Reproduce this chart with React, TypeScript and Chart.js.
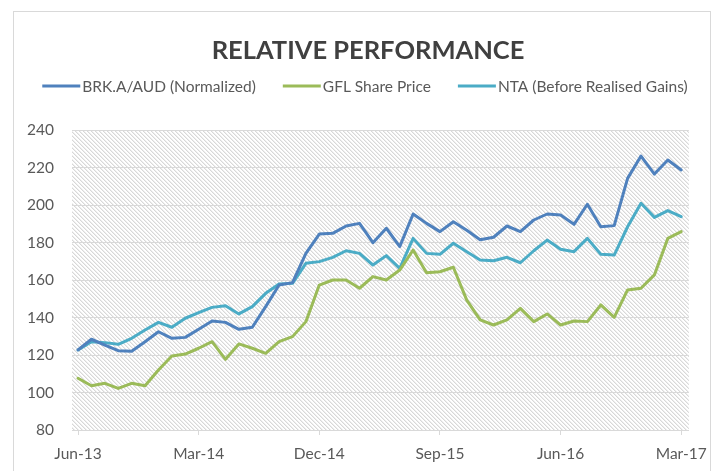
import React, { useEffect, useRef } from "react";
import { Chart, registerables } from "chart.js";

Chart.register(...registerables);

const months = [
  "Jun-13", "Jul-13", "Aug-13", "Sep-13", "Oct-13", "Nov-13", "Dec-13",
  "Jan-14", "Feb-14", "Mar-14", "Apr-14", "May-14", "Jun-14", "Jul-14", "Aug-14", "Sep-14", "Oct-14", "Nov-14", "Dec-14",
  "Jan-15", "Feb-15", "Mar-15", "Apr-15", "May-15", "Jun-15", "Jul-15", "Aug-15", "Sep-15", "Oct-15", "Nov-15", "Dec-15",
  "Jan-16", "Feb-16", "Mar-16", "Apr-16", "May-16", "Jun-16", "Jul-16", "Aug-16", "Sep-16", "Oct-16", "Nov-16", "Dec-16",
  "Jan-17", "Feb-17", "Mar-17",
];

const tickLabels = ["Jun-13", "Mar-14", "Dec-14", "Sep-15", "Jun-16", "Mar-17"];

const brkAud = [
  122.7, 128.4, 125.3, 122.3, 122.0, 127.1, 132.4, 128.9, 129.4, 133.7,
  138.1, 137.4, 133.7, 134.8, 145.8, 157.3, 158.6, 174.2, 184.5, 184.9,
  188.8, 190.2, 179.9, 187.6, 177.8, 195.2, 190.2, 185.8, 191.1, 186.5,
  181.5, 182.8, 188.8, 185.8, 192.0, 195.2, 194.7, 189.7, 200.4, 188.4,
  189.0, 214.2, 226.1, 216.5, 224.0, 218.7,
];

const gflPrice = [
  107.6, 103.6, 104.9, 102.2, 104.9, 103.6, 112.0, 119.5, 120.5, 123.6,
  127.1, 117.7, 125.9, 123.6, 120.9, 127.1, 129.8, 137.8, 157.3, 160.0,
  160.0, 155.6, 161.8, 160.0, 165.3, 176.0, 163.9, 164.4, 166.8, 149.3,
  138.7, 136.0, 138.7, 144.9, 137.8, 141.9, 136.0, 138.1, 137.8, 146.7,
  140.1, 154.7, 155.6, 162.7, 182.2, 185.8,
];

const ntaBefore = [
  122.7, 127.1, 126.6, 125.7, 128.9, 133.3, 137.4, 134.8, 139.6, 142.6,
  145.4, 146.3, 141.9, 145.8, 152.9, 157.9, 158.2, 168.9, 169.8, 172.1,
  175.6, 174.2, 168.0, 173.0, 166.2, 182.2, 174.2, 173.7, 179.6, 175.1,
  170.7, 170.3, 172.1, 169.2, 175.6, 181.3, 176.4, 175.1, 182.2, 173.7,
  173.3, 188.4, 200.9, 193.4, 197.0, 193.8,
];

const seriesNames = ["BRK.A/AUD (Normalized)", "GFL Share Price", "NTA (Before Realised Gains)"];
const seriesColors = ["#4F81BD", "#9BBB59", "#4BACC6"];
const seriesValues = [brkAud, gflPrice, ntaBefore];

const TITLE = "RELATIVE PERFORMANCE";
const FONT = "Lato";
const TEXT_COLOR = "#595959";
const GRID_COLOR = "#D9D9D9";

function makeHatch(): CanvasPattern | string {
  const c = document.createElement("canvas");
  c.width = 4;
  c.height = 4;
  const g = c.getContext("2d");
  if (!g) return "#eee";
  g.fillStyle = "#ffffff";
  g.fillRect(0, 0, 4, 4);
  for (let i = 0; i < 4; i++) {
    g.fillStyle = "#d8d8d8";
    g.fillRect(i, i, 1, 1);
    g.fillStyle = "#eeeeee";
    g.fillRect((i + 1) % 4, i, 1, 1);
  }
  const p = g.createPattern(c, "repeat");
  return p || "#eee";
}

const framePlugin = {
  id: "frame",
  beforeDraw(chart: any) {
    const { ctx, chartArea, width, height } = chart;
    ctx.save();
    ctx.fillStyle = "#ffffff";
    ctx.fillRect(0, 0, width, height);
    ctx.strokeStyle = GRID_COLOR;
    ctx.lineWidth = 1;
    ctx.strokeRect(13.5, 11.5, 697, height + 20);
    ctx.fillStyle = makeHatch();
    ctx.fillRect(chartArea.left, chartArea.top, chartArea.right - chartArea.left, chartArea.bottom - chartArea.top);
    ctx.restore();
  },
  afterDraw(chart: any) {
    const { ctx } = chart;
    ctx.save();
    ctx.font = `bold 25.5px ${FONT}`;
    ctx.fillStyle = "#404040";
    ctx.textAlign = "center";
    ctx.textBaseline = "alphabetic";
    ctx.fillText(TITLE, 368, 59.3);
    ctx.font = `15.5px ${FONT}`;
    const lineLen = 38;
    const gap = 2;
    const itemGap = 27;
    const datasets = chart.data.datasets;
    const widths = datasets.map((d: any) => ctx.measureText(d.label).width);
    const total = widths.reduce((a: number, w: number) => a + lineLen + gap + w, 0) + itemGap * (datasets.length - 1);
    let x = 365 - total / 2;
    const y = 86;
    ctx.textAlign = "left";
    datasets.forEach((d: any, i: number) => {
      ctx.strokeStyle = d.borderColor;
      ctx.lineWidth = 3;
      ctx.beginPath();
      ctx.moveTo(x, y);
      ctx.lineTo(x + lineLen, y);
      ctx.stroke();
      ctx.fillStyle = TEXT_COLOR;
      ctx.fillText(d.label, x + lineLen + gap, y + 5.6);
      x += lineLen + gap + widths[i] + itemGap;
    });
    ctx.restore();
  },
};

export default function App() {
  const ref = useRef<HTMLCanvasElement>(null);
  useEffect(() => {
    const canvas = ref.current;
    if (!canvas) return;
    const tickIdx = tickLabels.map((t) => months.indexOf(t));
    const chart = new Chart(canvas, {
      type: "line",
      data: {
        datasets: seriesNames.map((name, s) => ({
          label: name,
          data: seriesValues[s].map((v, i) => ({ x: i, y: v })),
          borderColor: seriesColors[s],
          backgroundColor: seriesColors[s],
          borderWidth: 3,
          pointRadius: 0,
          tension: 0,
          borderJoinStyle: "round" as const,
          borderCapStyle: "round" as const,
          fill: false,
        })),
      },
      options: {
        responsive: false,
        animation: false,
        layout: { padding: { top: 130, right: 26.3, bottom: 0, left: 0 } },
        plugins: {
          legend: { display: false },
          title: { display: false },
          tooltip: { enabled: false },
        },
        scales: {
          x: {
            type: "linear",
            min: -0.45,
            max: 45.57,
            afterBuildTicks: (scale: any) => {
              scale.ticks = tickIdx.map((v) => ({ value: v }));
            },
            afterFit: (scale: any) => {
              scale.height = 41;
            },
            ticks: {
              callback: (value: any) => months[Math.round(Number(value))],
              font: { family: FONT, size: 15.5 },
              color: TEXT_COLOR,
              padding: 10,
              maxRotation: 0,
              autoSkip: false,
            },
            grid: {
              drawOnChartArea: false,
              drawTicks: true,
              tickLength: 5,
              color: GRID_COLOR,
            },
            border: { display: true, color: GRID_COLOR, width: 1 },
          },
          y: {
            min: 80,
            max: 240,
            afterFit: (scale: any) => {
              scale.width = 72;
            },
            ticks: {
              stepSize: 20,
              font: { family: FONT, size: 15.5 },
              color: TEXT_COLOR,
              padding: 18,
            },
            grid: { color: GRID_COLOR, drawTicks: false },
            border: { display: false },
          },
        },
      },
      plugins: [framePlugin],
    });
    return () => chart.destroy();
  }, []);
  return (
    <div style={{ position: "fixed", left: 0, top: 0, width: 717, height: 471, background: "#fff" }}>
      <canvas ref={ref} width={717} height={471} style={{ display: "block", width: 717, height: 471 }} />
    </div>
  );
}
